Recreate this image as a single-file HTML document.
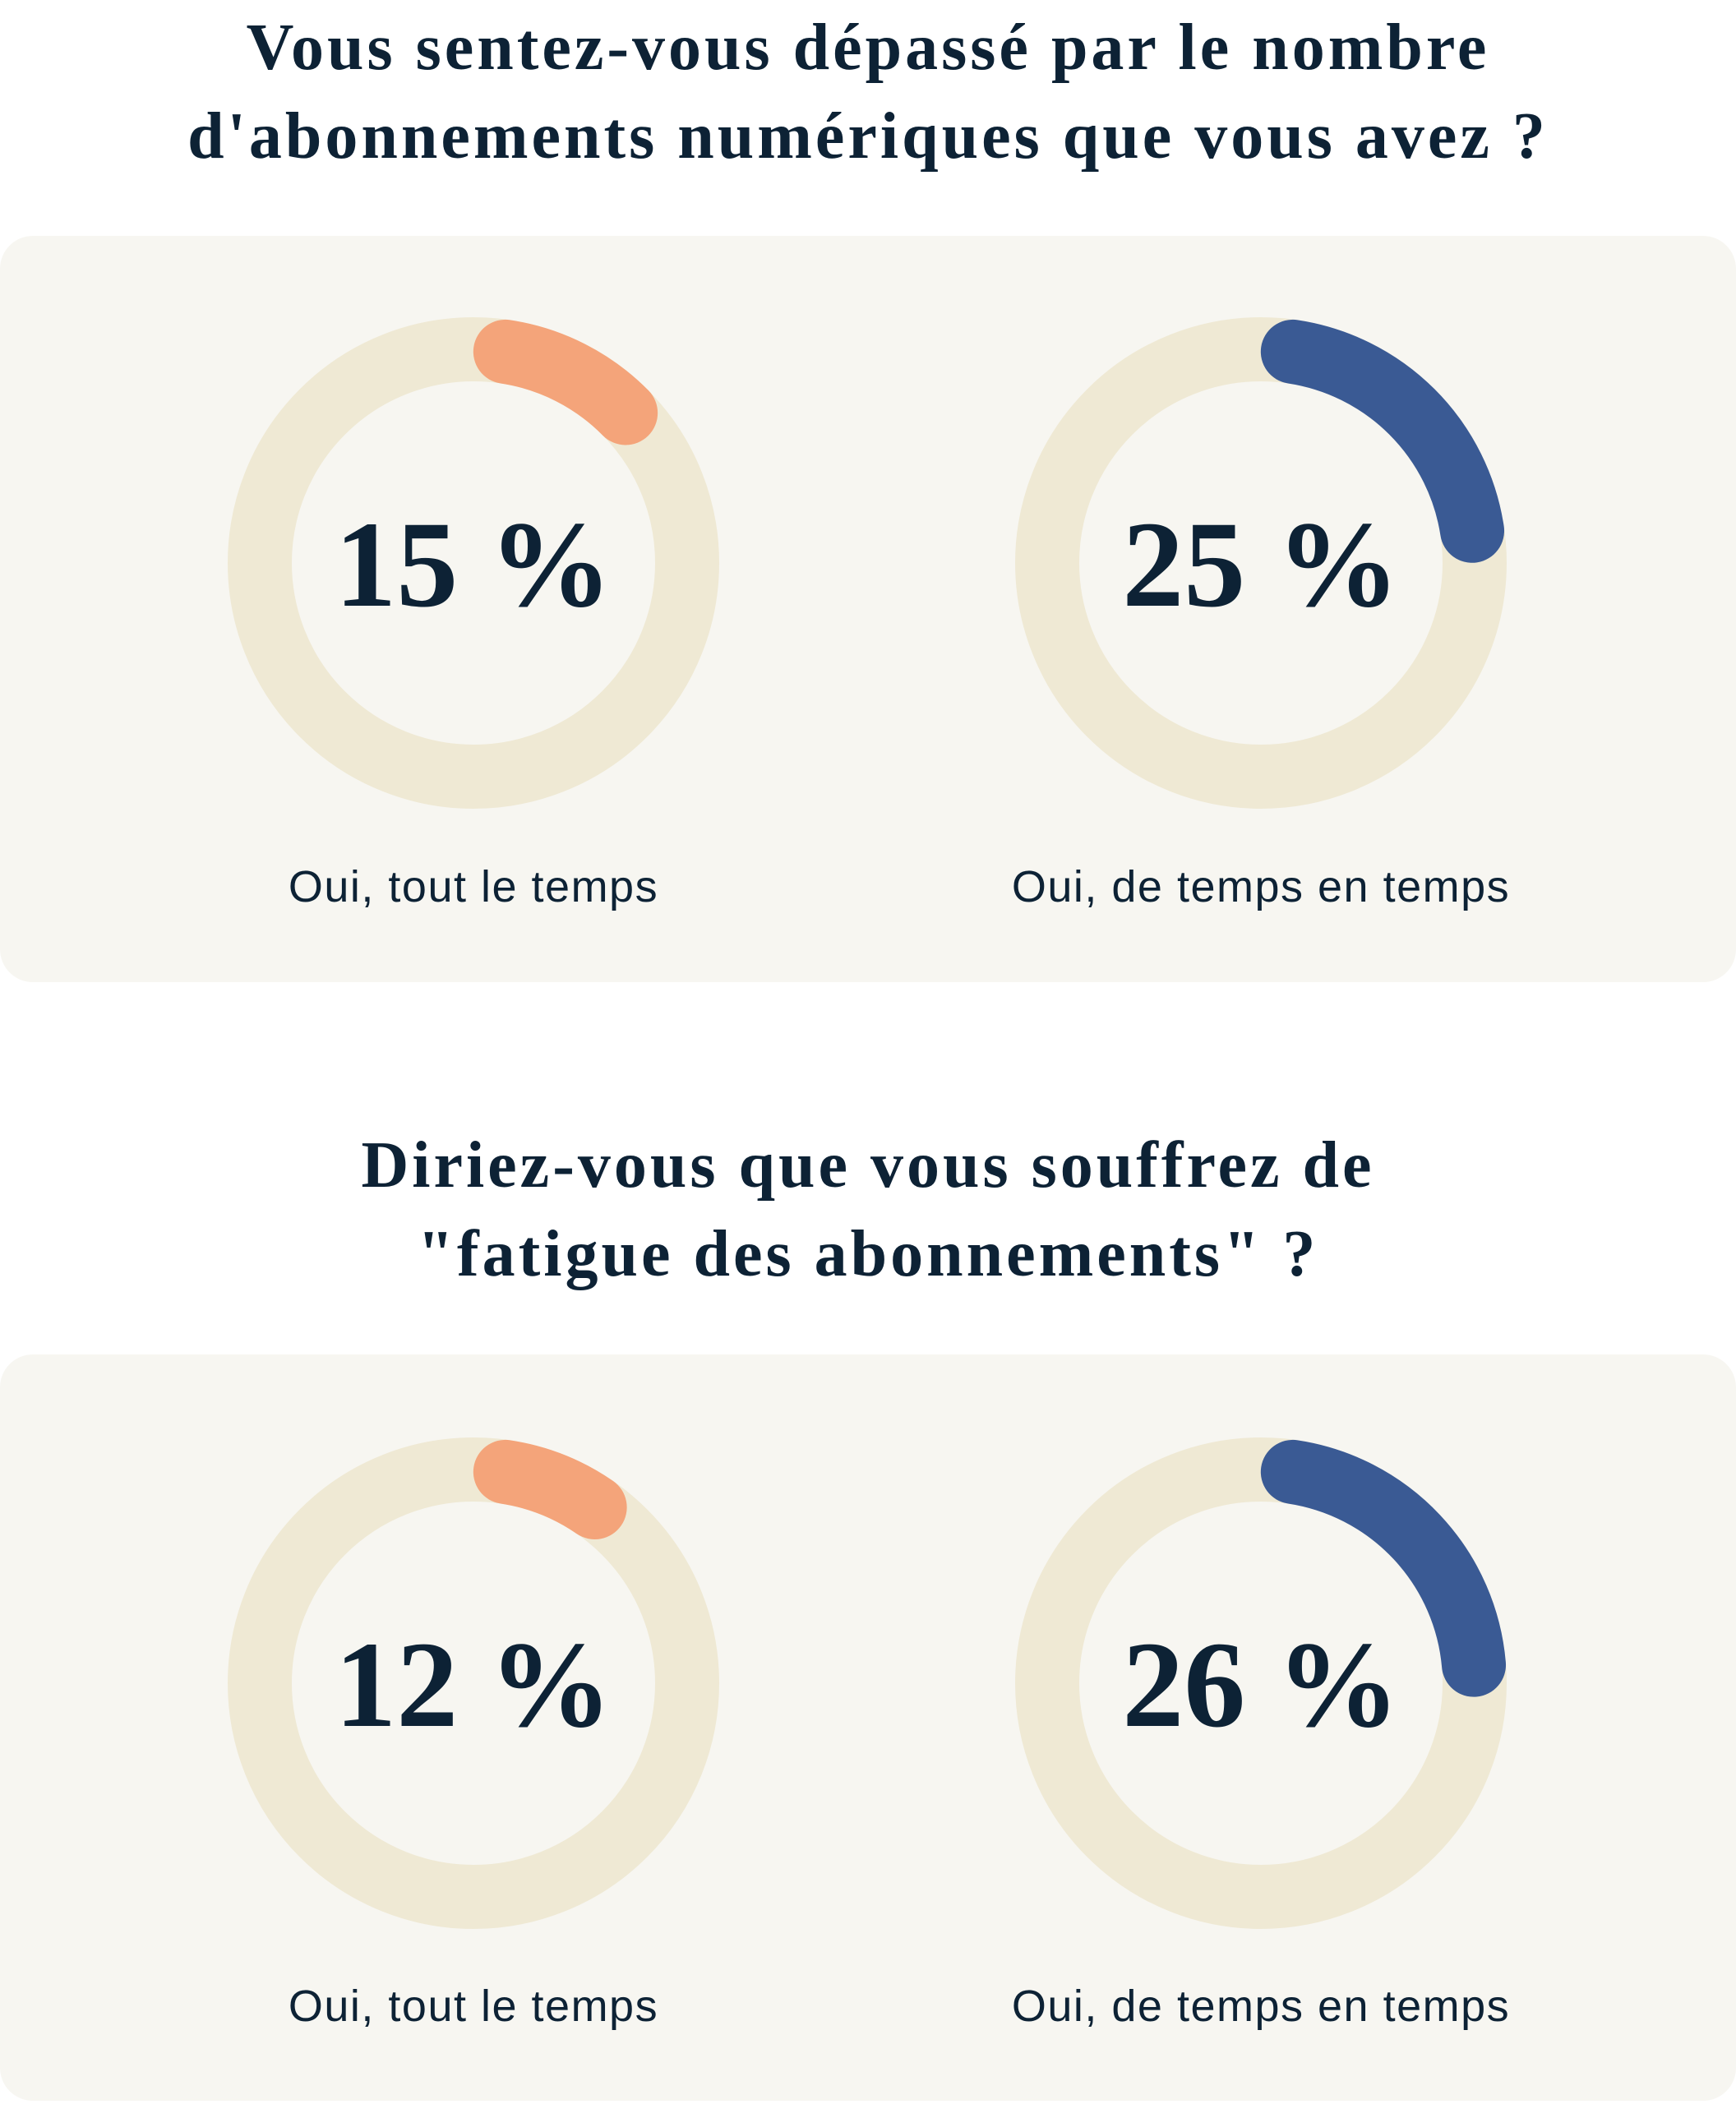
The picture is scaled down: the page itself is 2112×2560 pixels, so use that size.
<!DOCTYPE html>
<html><head><meta charset="utf-8"><style>
html,body{margin:0;padding:0;background:#fff;}
body{width:2112px;height:2560px;position:relative;overflow:hidden;}
.t{position:absolute;left:0;width:2112px;text-align:center;font-family:"Liberation Serif",serif;font-weight:bold;color:#0d2235;font-size:80px;letter-spacing:4px;line-height:108px;}
.p{position:absolute;left:0;width:2112px;height:908px;background:#f7f6f1;border-radius:40px;}
.l{position:absolute;width:900px;text-align:center;font-family:"Liberation Sans",sans-serif;font-size:54px;letter-spacing:1.5px;color:#0d2235;}
</style></head><body>
<div class="t" style="top:4px">Vous sentez-vous dépassé par le nombre<br>d'abonnements numériques que vous avez ?</div>
<div class="p" style="top:287px"></div>
<div class="t" style="top:1364px">Diriez-vous que vous souffrez de<br>"fatigue des abonnements" ?</div>
<div class="p" style="top:1648px"></div>
<svg width="2112" height="2560" style="position:absolute;left:0;top:0">
<g fill="none" stroke-width="78">
<circle cx="576" cy="685" r="260" stroke="#efe9d4"/>
<circle cx="1534" cy="685" r="260" stroke="#efe9d4"/>
<circle cx="576" cy="2048" r="260" stroke="#efe9d4"/>
<circle cx="1534" cy="2048" r="260" stroke="#efe9d4"/>
<circle cx="576" cy="685" r="260" stroke="#f4a47a" stroke-linecap="round" stroke-dasharray="167 3000" stroke-dashoffset="-39" transform="rotate(-90 576 685)"/>
<circle cx="1534" cy="685" r="260" stroke="#3a5a94" stroke-linecap="round" stroke-dasharray="330 3000" stroke-dashoffset="-39" transform="rotate(-90 1534 685)"/>
<circle cx="576" cy="2048" r="260" stroke="#f4a47a" stroke-linecap="round" stroke-dasharray="118 3000" stroke-dashoffset="-39" transform="rotate(-90 576 2048)"/>
<circle cx="1534" cy="2048" r="260" stroke="#3a5a94" stroke-linecap="round" stroke-dasharray="347 3000" stroke-dashoffset="-39" transform="rotate(-90 1534 2048)"/>
</g>
<g font-family="Liberation Serif, serif" font-weight="bold" font-size="150" fill="#0d2235" text-anchor="middle">
<text x="576" y="737">15 %</text>
<text x="1534" y="737">25 %</text>
<text x="576" y="2100">12 %</text>
<text x="1534" y="2100">26 %</text>
</g>
</svg>
<div class="l" style="left:126px;top:1048px">Oui, tout le temps</div>
<div class="l" style="left:1084px;top:1048px">Oui, de temps en temps</div>
<div class="l" style="left:126px;top:2410px">Oui, tout le temps</div>
<div class="l" style="left:1084px;top:2410px">Oui, de temps en temps</div>
</body></html>
